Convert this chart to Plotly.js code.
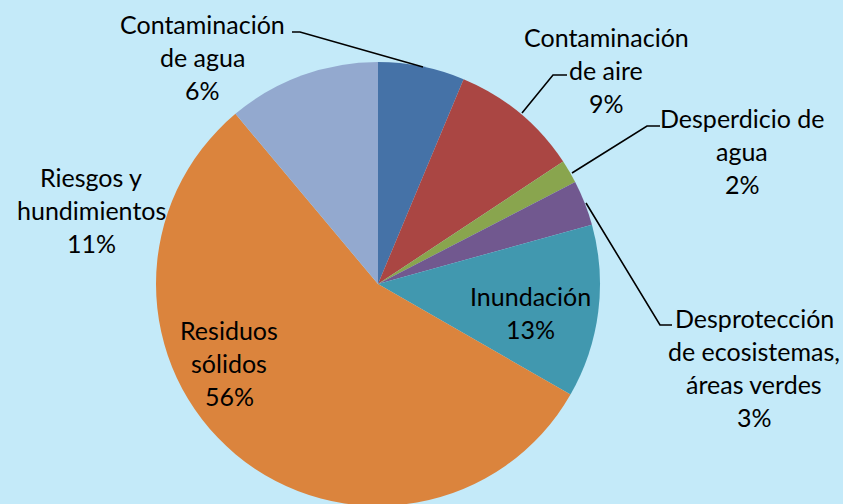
<!DOCTYPE html>
<html>
<head>
<meta charset="utf-8">
<script src="https://cdn.plot.ly/plotly-3.0.1.min.js"></script>
<style>
html,body{margin:0;padding:0;overflow:hidden;background:#C4EAF9;}
#chart{width:843px;height:510px;}
</style>
</head>
<body>
<div id="chart"></div>
<script>
// ---- data ----
const categories = ['Contaminación de agua','Contaminación de aire','Desperdicio de agua','Desprotección de ecosistemas, áreas verdes','Inundación','Residuos sólidos','Riesgos y hundimientos'];
const values = [6.3, 9.4, 1.7, 3.3, 12.6, 55.6, 11.1];
const labelLines = [
  ['Contaminación','de agua'],
  ['Contaminación','de aire'],
  ['Desperdicio de','agua'],
  ['Desprotección','de ecosistemas,','áreas verdes'],
  ['Inundación'],
  ['Residuos','sólidos'],
  ['Riesgos y','hundimientos']
];

// ---- style / layout ----
const W = 843, H = 510;
const colors = ['#4572A7','#AA4643','#89A54E','#71588F','#4198AF','#DB843D','#93A9CF'];
const bg = '#C4EAF9';
const cx = 378, cy = 284, R = 222;
// label block anchor: centre x, first-line centre y (pixels)
const labelPos = [[202,24],[606,37],[742,118],[754,318],[530,296],[229,330],[91,177]];
const lineGap = 33;
const leaders = [
  [[292,32],[300,32],[423,67]],
  [[567,75],[553,75],[522,113]],
  [[660,126],[647,126],[572,173]],
  [[586,203],[660,325],[672,325]]
];

const px = x => x / W;
const py = y => 1 - y / H;

const total = values.reduce((a,b)=>a+b,0);
const annotations = [];
labelLines.forEach((lines, i) => {
  const all = lines.concat([Math.round(values[i]/total*100) + '%']);
  all.forEach((t, j) => {
    annotations.push({
      xref:'paper', yref:'paper',
      x: px(labelPos[i][0]), y: py(labelPos[i][1] + j*lineGap),
      xanchor:'center', yanchor:'middle',
      text: t, showarrow:false,
      font:{family:'Lato, Carlito, sans-serif', size:25, color:'#000'}
    });
  });
});

const shapes = leaders.map(pts => ({
  type:'path', xref:'paper', yref:'paper',
  path: pts.map((p,k)=>(k?'L':'M')+px(p[0])+','+py(p[1])).join(' '),
  line:{color:'#000', width:1.6}
}));

const trace = {
  type:'pie',
  labels: categories,
  values: values,
  sort:false,
  direction:'clockwise',
  rotation:0,
  textinfo:'none',
  hoverinfo:'label+percent',
  marker:{colors:colors, line:{width:0}},
  domain:{x:[px(cx-R), px(cx+R)], y:[py(cy+R), py(cy-R)]},
  showlegend:false
};

Plotly.newPlot('chart', [trace], {
  width:W, height:H,
  margin:{l:0,r:0,t:0,b:0},
  paper_bgcolor:bg, plot_bgcolor:bg,
  showlegend:false,
  annotations:annotations,
  shapes:shapes
}, {displayModeBar:false, staticPlot:true});
</script>
</body>
</html>
